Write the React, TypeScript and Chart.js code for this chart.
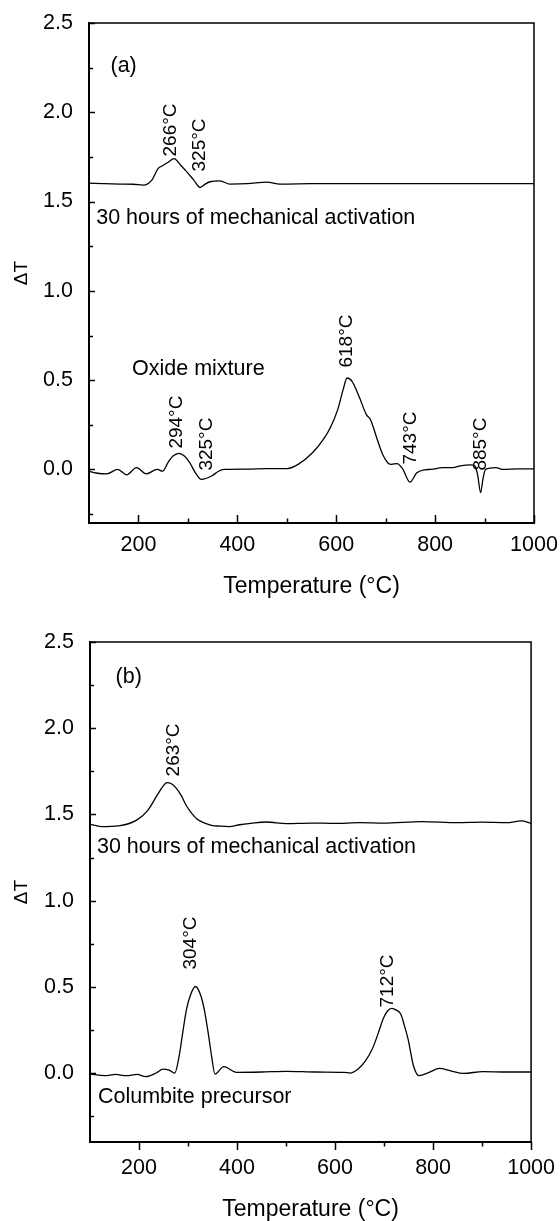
import React, { useEffect, useRef } from "react";
import { Chart, registerables } from "chart.js";

Chart.register(...registerables);

const FONT = "'Liberation Sans', Arial, Helvetica, sans-serif";

// Axis ticks
const X_TICKS = [200, 400, 600, 800, 1000];
const X_MINOR = [300, 500, 700, 900];
const Y_TICKS = [0, 0.5, 1.0, 1.5, 2.0, 2.5];
const Y_MINOR = [-0.25, 0.25, 0.75, 1.25, 1.75, 2.25];

const X_TITLE = "Temperature (°C)";
const Y_TITLE = "ΔT";

// Panel (a): 30 hours of mechanical activation
const A_MA_T = [100, 130, 163, 190, 210, 227, 240, 247, 260, 272, 285, 298, 312, 325, 335, 345, 365, 385, 420, 460, 486, 550, 650, 750, 850, 950, 1000];
const A_MA_V = [1.603, 1.600, 1.598, 1.597, 1.592, 1.620, 1.686, 1.698, 1.720, 1.741, 1.705, 1.666, 1.620, 1.579, 1.598, 1.611, 1.616, 1.598, 1.600, 1.609, 1.598, 1.600, 1.601, 1.600, 1.600, 1.601, 1.600];

// Panel (a): oxide mixture
const A_OX_T = [100, 114, 136, 158, 176, 196, 216, 238, 249, 260, 270, 282, 293, 304, 315, 327, 348, 362, 373, 420, 460, 501, 523, 552, 574, 588, 603, 614, 622, 632, 646, 661, 668, 672, 683, 694, 705, 712, 723, 734, 749, 763, 778, 792, 814, 836, 851, 872, 880, 886, 892, 897, 902, 923, 938, 970, 1000];
const A_OX_V = [-0.01, -0.02, -0.025, 0.0, -0.03, 0.01, -0.025, 0.0, -0.01, 0.04, 0.075, 0.09, 0.075, 0.037, -0.018, -0.056, -0.037, -0.01, 0.0, 0.002, 0.005, 0.005, 0.028, 0.093, 0.168, 0.233, 0.335, 0.447, 0.512, 0.493, 0.41, 0.307, 0.285, 0.26, 0.168, 0.084, 0.035, 0.028, 0.033, 0.004, -0.071, -0.019, -0.002, 0.0, 0.01, 0.01, 0.02, 0.025, 0.02, -0.03, -0.13, -0.05, 0.0, 0.01, 0.0, 0.003, 0.003];

// Panel (b): 30 hours of mechanical activation
const B_MA_T = [100, 123, 158, 196, 217, 238, 248, 257, 266, 275, 286, 297, 308, 319, 334, 348, 365, 384, 405, 428, 460, 501, 550, 600, 650, 700, 777, 850, 900, 950, 980, 1000];
const B_MA_V = [1.443, 1.429, 1.433, 1.468, 1.520, 1.616, 1.660, 1.684, 1.678, 1.655, 1.610, 1.549, 1.505, 1.472, 1.450, 1.437, 1.432, 1.429, 1.440, 1.448, 1.456, 1.447, 1.450, 1.448, 1.452, 1.450, 1.458, 1.452, 1.455, 1.452, 1.462, 1.448];

// Panel (b): columbite precursor
const B_CP_T = [100, 130, 152, 174, 196, 214, 235, 249, 260, 273, 282, 289, 297, 306, 315, 326, 333, 341, 348, 355, 373, 399, 450, 501, 560, 618, 632, 647, 662, 676, 688, 698, 707, 716, 725, 734, 741, 749, 755, 760, 771, 792, 813, 836, 862, 902, 950, 1000];
const B_CP_V = [-0.006, -0.015, -0.008, -0.015, -0.008, -0.021, 0.0, 0.023, 0.019, 0.0, 0.10, 0.23, 0.371, 0.46, 0.502, 0.45, 0.37, 0.236, 0.10, -0.006, 0.037, 0.004, 0.006, 0.01, 0.006, 0.004, 0.0, 0.023, 0.07, 0.139, 0.23, 0.313, 0.36, 0.375, 0.365, 0.342, 0.28, 0.197, 0.11, 0.042, -0.015, 0.004, 0.027, 0.013, -0.002, 0.008, 0.006, 0.006];

type Label = { text: string; x: number; y: number; rot: boolean; align: CanvasTextAlign; size: number };

const A_LABELS: Label[] = [
  { text: "(a)", x: 170, y: 2.259, rot: false, align: "center", size: 21.5 },
  { text: "266°C", x: 266, y: 1.901, rot: true, align: "center", size: 19 },
  { text: "325°C", x: 324.5, y: 1.817, rot: true, align: "center", size: 19 },
  { text: "30 hours of mechanical activation", x: 114.6, y: 1.408, rot: false, align: "left", size: 21.5 },
  { text: "Oxide mixture", x: 187, y: 0.562, rot: false, align: "left", size: 21.5 },
  { text: "618°C", x: 621.8, y: 0.719, rot: true, align: "center", size: 19 },
  { text: "294°C", x: 278, y: 0.265, rot: true, align: "center", size: 19 },
  { text: "325°C", x: 338.7, y: 0.142, rot: true, align: "center", size: 19 },
  { text: "743°C", x: 751.3, y: 0.176, rot: true, align: "center", size: 19 },
  { text: "885°C", x: 892.9, y: 0.142, rot: true, align: "center", size: 19 },
];

const B_LABELS: Label[] = [
  { text: "(b)", x: 179, y: 2.297, rot: false, align: "center", size: 21.5 },
  { text: "263°C", x: 270, y: 1.874, rot: true, align: "center", size: 19 },
  { text: "30 hours of mechanical activation", x: 114.2, y: 1.311, rot: false, align: "left", size: 21.5 },
  { text: "304°C", x: 306.3, y: 0.754, rot: true, align: "center", size: 19 },
  { text: "712°C", x: 707.8, y: 0.534, rot: true, align: "center", size: 19 },
  { text: "Columbite precursor", x: 116.2, y: -0.139, rot: false, align: "left", size: 21.5 },
];

const framePlugin = {
  id: "frameTicks",
  afterDraw(chart: any, _args: any, opts: any) {
    const { ctx, chartArea, scales } = chart;
    const { left, right, top, bottom } = chartArea;
    const xs = scales.x;
    const ys = scales.y;
    ctx.save();
    ctx.strokeStyle = "#000";
    ctx.lineWidth = 1.5;
    ctx.beginPath();
    ctx.moveTo(left, top);
    ctx.lineTo(right, top);
    ctx.lineTo(right, bottom);
    ctx.stroke();
    const dir = opts.xDir || -1;
    ctx.beginPath();
    for (const v of X_TICKS) {
      const px = Math.round(xs.getPixelForValue(v)) + 0.5;
      ctx.moveTo(px, bottom);
      ctx.lineTo(px, bottom + dir * 8);
    }
    for (const v of X_MINOR) {
      const px = Math.round(xs.getPixelForValue(v)) + 0.5;
      ctx.moveTo(px, bottom);
      ctx.lineTo(px, bottom + dir * 4.5);
    }
    for (const v of Y_TICKS) {
      const py = Math.round(ys.getPixelForValue(v)) + 0.5;
      ctx.moveTo(left, py);
      ctx.lineTo(left + 6, py);
    }
    for (const v of Y_MINOR) {
      const py = Math.round(ys.getPixelForValue(v)) + 0.5;
      ctx.moveTo(left, py);
      ctx.lineTo(left + 4, py);
    }
    ctx.stroke();
    ctx.restore();
  },
};

const labelPlugin = {
  id: "peakLabels",
  afterDatasetsDraw(chart: any, _args: any, opts: any) {
    const { ctx, scales } = chart;
    const labels: Label[] = opts.labels || [];
    ctx.save();
    ctx.fillStyle = "#000";
    ctx.textBaseline = "middle";
    for (const l of labels) {
      const px = scales.x.getPixelForValue(l.x);
      const py = scales.y.getPixelForValue(l.y);
      ctx.save();
      ctx.font = `${l.size}px ${FONT}`;
      ctx.translate(px, py);
      if (l.rot) ctx.rotate(-Math.PI / 2);
      ctx.textAlign = l.align;
      ctx.fillText(l.text, 0, 0);
      ctx.restore();
    }
    ctx.restore();
  },
};

type PanelCfg = {
  series: { t: number[]; v: number[] }[];
  labels: Label[];
  yMin: number;
  padTop: number;
  leftW: number;
  xAxisH: number;
  xTickPad: number;
  xTitlePad: number;
  xDir: number;
};

function makeConfig(p: PanelCfg): any {
  return {
    type: "line",
    data: {
      datasets: p.series.map((s) => ({
        data: s.t.map((t, i) => ({ x: t, y: s.v[i] })),
        borderColor: "#000",
        borderWidth: 1.3,
        pointRadius: 0,
        fill: false,
        tension: 0.4,
        cubicInterpolationMode: "monotone",
      })),
    },
    options: {
      responsive: false,
      animation: false,
      devicePixelRatio: 1,
      layout: { padding: { left: 0, right: 26, top: p.padTop, bottom: 0 } },
      plugins: {
        legend: { display: false },
        tooltip: { enabled: false },
        frameTicks: { xDir: p.xDir },
        peakLabels: { labels: p.labels },
      },
      scales: {
        x: {
          type: "linear",
          min: 100,
          max: 1000,
          afterBuildTicks: (s: any) => {
            s.ticks = X_TICKS.map((v) => ({ value: v }));
          },
          afterFit: (s: any) => {
            s.height = p.xAxisH;
          },
          grid: { display: false },
          border: { display: true, color: "#000", width: 2 },
          ticks: {
            color: "#000",
            font: { family: FONT, size: 21.5 },
            padding: p.xTickPad,
            maxRotation: 0,
            autoSkip: false,
            callback: (v: any) => String(v),
          },
          title: {
            display: true,
            text: X_TITLE,
            color: "#000",
            font: { family: FONT, size: 23 },
            padding: { top: 0, bottom: p.xTitlePad },
          },
        },
        y: {
          type: "linear",
          min: p.yMin,
          max: 2.5,
          afterBuildTicks: (s: any) => {
            s.ticks = Y_TICKS.map((v) => ({ value: v }));
          },
          afterFit: (s: any) => {
            s.width = p.leftW;
          },
          grid: { display: false },
          border: { display: true, color: "#000", width: 2 },
          ticks: {
            color: "#000",
            font: { family: FONT, size: 21.5 },
            padding: 8,
            autoSkip: false,
            callback: (v: any) => Number(v).toFixed(1),
          },
          title: {
            display: true,
            text: Y_TITLE,
            color: "#000",
            font: { family: FONT, size: 19 },
            padding: { top: 10, bottom: 0 },
          },
        },
      },
    },
    plugins: [framePlugin, labelPlugin],
  };
}

function Panel({ top, height, cfg }: { top: number; height: number; cfg: PanelCfg }) {
  const ref = useRef<HTMLCanvasElement | null>(null);
  useEffect(() => {
    if (!ref.current) return;
    const chart = new Chart(ref.current, makeConfig(cfg));
    return () => chart.destroy();
  }, []);
  return (
    <canvas
      ref={ref}
      width={560}
      height={height}
      style={{ position: "absolute", left: 0, top, width: 560, height }}
    />
  );
}

const PANEL_A: PanelCfg = {
  series: [
    { t: A_MA_T, v: A_MA_V },
    { t: A_OX_T, v: A_OX_V },
  ],
  labels: A_LABELS,
  yMin: -0.3,
  padTop: 23,
  leftW: 89,
  xAxisH: 82,
  xTickPad: 1,
  xTitlePad: 5,
  xDir: -1,
};

const PANEL_B: PanelCfg = {
  series: [
    { t: B_MA_T, v: B_MA_V },
    { t: B_CP_T, v: B_CP_V },
  ],
  labels: B_LABELS,
  yMin: -0.4,
  padTop: 27,
  leftW: 90,
  xAxisH: 79,
  xTickPad: 5,
  xTitlePad: -2,
  xDir: 1,
};

export default function App() {
  return (
    <div style={{ position: "absolute", left: 0, top: 0, width: 560, height: 1221, background: "#fff" }}>
      <Panel top={0} height={605} cfg={PANEL_A} />
      <Panel top={615} height={606} cfg={PANEL_B} />
    </div>
  );
}
